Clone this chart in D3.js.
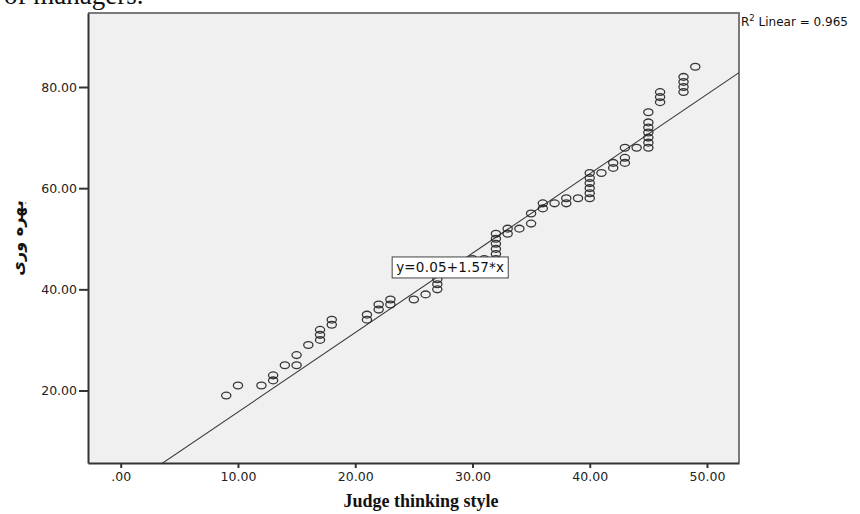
<!DOCTYPE html>
<html>
<head>
<meta charset="utf-8">
<script src="https://cdn.jsdelivr.net/npm/d3@7"></script>
<style>
  html, body { margin: 0; padding: 0; background: #fff; }
  svg { display: block; }
  .tick text { font-family: "DejaVu Sans", sans-serif; font-size: 12.5px; fill: #222; }
</style>
</head>
<body>
<div id="chart"></div>
<script>

// Data (x = judge thinking style, y = productivity)
var judgeStyle = [
  9, 10, 12, 13, 13, 14, 15, 15, 16, 17, 17, 17, 18, 18,
  21, 21, 22, 22, 23, 23, 25, 26, 27, 27, 27,
  30, 31, 32, 32, 32, 32, 32, 32, 33, 33, 34, 35, 35, 36, 36, 37, 38, 38, 39,
  40, 40, 40, 40, 40, 40, 41, 42, 42, 43, 43, 43, 44,
  45, 45, 45, 45, 45, 45, 45, 46, 46, 46, 48, 48, 48, 48, 49
];
var productivity = [
  19, 21, 21, 22, 23, 25, 25, 27, 29, 30, 31, 32, 33, 34,
  34, 35, 36, 37, 37, 38, 38, 39, 40, 41, 42,
  46, 46, 46, 47, 48, 49, 50, 51, 51, 52, 52, 53, 55, 56, 57, 57, 57, 58, 58,
  58, 59, 60, 61, 62, 63, 63, 64, 65, 65, 66, 68, 68,
  68, 69, 70, 71, 72, 73, 75, 77, 78, 79, 79, 80, 81, 82, 84
];

var xTicks = [0, 10, 20, 30, 40, 50];
var yTicks = [20, 40, 60, 80];

var fit = { intercept: 0.05, slope: 1.57 };
var rSquared = 0.965;
var eqAnchor = [28.1, 44.3]; // where the equation box sits, in data units

var labels = {
  x: 'Judge thinking style',
  y: 'بهره وری',
  caption: 'of managers.'
};

var settings = {
  width: 860,
  height: 514,
  plot: { left: 88, top: 13, right: 739, bottom: 463 },
  xDomain: [-2.79, 52.73],
  yDomain: [5.67, 94.63]
};

function translate(x, y) {
  return 'translate(' + x + ',' + y + ')';
}

function fmt(v) {
  var s = d3.format('.2f')(v);
  return v === 0 ? s.replace(/^0/, '') : s;
}

var p = settings.plot;

var svg = d3.select('#chart').append('svg')
  .attr('width', settings.width)
  .attr('height', settings.height);

var x = d3.scaleLinear().domain(settings.xDomain).range([p.left, p.right]);
var y = d3.scaleLinear().domain(settings.yDomain).range([p.bottom, p.top]);

// caption text cut off from the page above
svg.append('text')
  .attr('x', 4).attr('y', 4)
  .attr('font-family', '"Liberation Serif", serif')
  .attr('font-size', 27)
  .attr('fill', '#111')
  .text(labels.caption);

// plot background + frame
svg.append('rect')
  .attr('x', p.left).attr('y', p.top)
  .attr('width', p.right - p.left).attr('height', p.bottom - p.top)
  .attr('fill', '#f0f0f0');

svg.append('path')
  .attr('d', 'M' + p.left + ',' + p.top + 'H' + p.right + 'V' + p.bottom)
  .attr('fill', 'none')
  .attr('stroke', '#7a7a7a')
  .attr('stroke-width', 2);

svg.append('defs').append('clipPath').attr('id', 'clip')
  .append('rect')
  .attr('x', p.left).attr('y', p.top)
  .attr('width', p.right - p.left).attr('height', p.bottom - p.top);

// fit line
var line = d3.line()
  .x(function(d) { return x(d); })
  .y(function(d) { return y(fit.intercept + fit.slope * d); });

svg.append('path')
  .attr('clip-path', 'url(#clip)')
  .attr('d', line(settings.xDomain))
  .attr('fill', 'none')
  .attr('stroke', '#3a3a3a')
  .attr('stroke-width', 1.1);

// points
svg.append('g').selectAll('ellipse')
  .data(d3.range(judgeStyle.length))
  .enter().append('ellipse')
  .attr('cx', function(i) { return x(judgeStyle[i]); })
  .attr('cy', function(i) { return y(productivity[i]); })
  .attr('rx', 4.6)
  .attr('ry', 3.4)
  .attr('fill', 'none')
  .attr('stroke', '#222')
  .attr('stroke-opacity', 0.9)
  .attr('stroke-width', 1.3);

// axes
var xAxis = svg.append('g')
  .attr('transform', translate(0, p.bottom))
  .call(d3.axisBottom(x).tickValues(xTicks).tickFormat(fmt).tickSizeInner(5).tickSizeOuter(0).tickPadding(4));

var yAxis = svg.append('g')
  .attr('transform', translate(p.left, 0))
  .call(d3.axisLeft(y).tickValues(yTicks).tickFormat(fmt).tickSizeInner(9).tickSizeOuter(0).tickPadding(2));

[xAxis, yAxis].forEach(function(a) {
  a.select('.domain').attr('stroke', '#333').attr('stroke-width', 2);
  a.selectAll('.tick line').attr('stroke', '#333').attr('stroke-width', 2);
});

// axis titles
svg.append('text')
  .attr('x', 421).attr('y', 507)
  .attr('text-anchor', 'middle')
  .attr('font-family', '"Liberation Serif", serif')
  .attr('font-weight', 'bold')
  .attr('font-size', 18)
  .attr('fill', '#111')
  .text(labels.x);

svg.append('text')
  .attr('transform', translate(23, (p.top + p.bottom) / 2) + ' rotate(-90)')
  .attr('text-anchor', 'middle')
  .attr('font-family', '"DejaVu Sans", sans-serif')
  .attr('font-weight', 'bold')
  .attr('font-size', 16)
  .attr('fill', '#111')
  .text(labels.y);

// fit equation box
var eq = svg.append('g').attr('transform', translate(x(eqAnchor[0]), y(eqAnchor[1])));
var eqText = eq.append('text')
  .attr('x', 0).attr('y', 0)
  .attr('text-anchor', 'middle')
  .attr('dy', '0.36em')
  .attr('font-family', '"DejaVu Sans", sans-serif')
  .attr('font-size', 13.5)
  .attr('letter-spacing', 0.2)
  .attr('fill', '#111')
  .text('y=' + fit.intercept.toFixed(2) + '+' + fit.slope.toFixed(2) + '*x');
var bb = eqText.node().getBBox();
eq.insert('rect', 'text')
  .attr('x', bb.x - 4).attr('y', bb.y - 2.5)
  .attr('width', bb.width + 8).attr('height', bb.height + 5)
  .attr('fill', '#fff')
  .attr('stroke', '#444')
  .attr('stroke-width', 1);

// R squared label
var r2 = svg.append('text')
  .attr('x', p.right + 2).attr('y', 26)
  .attr('font-family', '"DejaVu Sans", sans-serif')
  .attr('font-size', 12)
  .attr('fill', '#111');
r2.append('tspan').text('R');
r2.append('tspan').attr('dy', -5).attr('font-size', 8.5).text('2');
r2.append('tspan').attr('dy', 5).text(' Linear = ' + rSquared.toFixed(3));

</script>
</body>
</html>
